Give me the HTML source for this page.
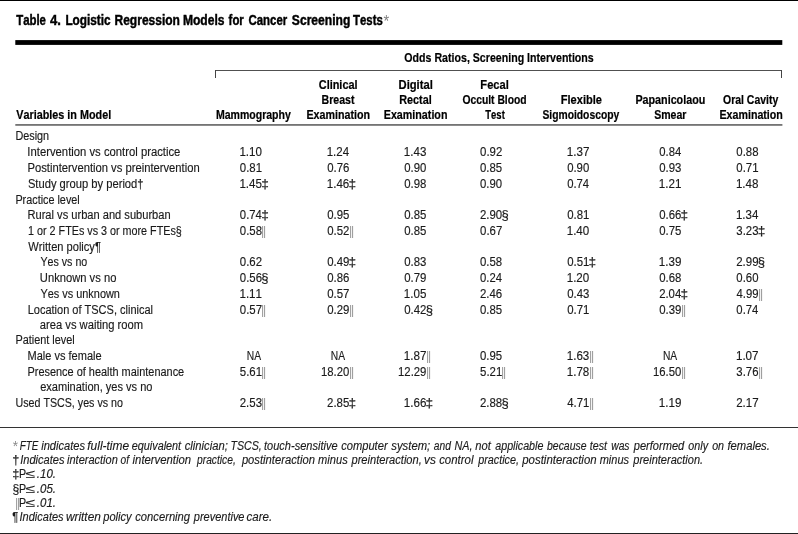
<!DOCTYPE html>
<html lang="en"><head><meta charset="utf-8"><title>Table 4. Logistic Regression Models for Cancer Screening Tests</title>
<style>
html,body{margin:0;padding:0;background:#fff;}
body{width:798px;height:534px;overflow:hidden;}
svg{display:block;will-change:transform;}
text{font-family:"Liberation Sans", Arial, Helvetica, sans-serif;fill:#1a1a1a;font-kerning:none;}
.t{font-size:14.6px;font-weight:bold;}
.h{font-size:11.9px;font-weight:bold;}
.h2{font-size:12.4px;font-weight:bold;}
.r{font-size:12.0px;}
.i{font-size:12.0px;font-style:italic;}
.ts{font-size:12.0px;}
.bar{font-size:16.3px;}
.ast{font-size:17.0px;}
.ast2{font-size:14.2px;}
.t,.h,.h2{fill:#000;}
.bar{fill:#999;}
.t{stroke:#000;stroke-width:0.45px;}
.h,.h2{stroke:#000;stroke-width:0.2px;}
.r,.i{stroke:#1a1a1a;stroke-width:0.15px;}
</style></head><body>
<svg width="798" height="534" viewBox="0 0 798 534">
<rect x="0" y="0" width="798" height="1" fill="#000"/>
<rect x="15.3" y="40.1" width="767.0" height="4.8" fill="#000"/>
<rect x="15.3" y="124" width="767.1" height="1" fill="#747474"/>
<rect x="15.3" y="125" width="767.1" height="1" fill="#8c8c8c"/>
<rect x="0" y="427" width="798" height="1" fill="#333"/>
<rect x="0" y="533" width="798" height="1" fill="#222"/>
<rect x="215" y="70" width="567" height="1" fill="#505050"/>
<rect x="215" y="70" width="1" height="8" fill="#444"/>
<rect x="781" y="70" width="1" height="8" fill="#444"/>
<text><tspan x="16.17" y="25" class="t" textLength="29.82" lengthAdjust="spacingAndGlyphs">Table</tspan> <tspan x="49.90" y="25" class="t" textLength="10.90" lengthAdjust="spacingAndGlyphs">4.</tspan> <tspan x="65.41" y="25" class="t" textLength="45.24" lengthAdjust="spacingAndGlyphs">Logistic</tspan> <tspan x="114.50" y="25" class="t" textLength="65.45" lengthAdjust="spacingAndGlyphs">Regression</tspan> <tspan x="182.89" y="25" class="t" textLength="41.60" lengthAdjust="spacingAndGlyphs">Models</tspan> <tspan x="228.61" y="25" class="t" textLength="15.17" lengthAdjust="spacingAndGlyphs">for</tspan> <tspan x="248.53" y="25" class="t" textLength="38.74" lengthAdjust="spacingAndGlyphs">Cancer</tspan> <tspan x="291.85" y="25" class="t" textLength="58.46" lengthAdjust="spacingAndGlyphs">Screening</tspan> <tspan x="353.07" y="25" class="t" textLength="29.69" lengthAdjust="spacingAndGlyphs">Tests</tspan><tspan x="383.57" y="27" class="ast" textLength="5.66" lengthAdjust="spacingAndGlyphs" fill="#808080">*</tspan></text>
<text x="16.23" y="119" class="h" textLength="94.94" lengthAdjust="spacingAndGlyphs">Variables in Model</text>
<text x="404.36" y="62" class="h2" textLength="189.37" lengthAdjust="spacingAndGlyphs">Odds Ratios, Screening Interventions</text>
<text x="215.89" y="119" class="h" textLength="74.96" lengthAdjust="spacingAndGlyphs">Mammography</text>
<text x="318.75" y="89" class="h" textLength="38.82" lengthAdjust="spacingAndGlyphs">Clinical</text>
<text x="321.49" y="104" class="h" textLength="32.94" lengthAdjust="spacingAndGlyphs">Breast</text>
<text x="306.48" y="119" class="h" textLength="63.58" lengthAdjust="spacingAndGlyphs">Examination</text>
<text x="398.55" y="89" class="h" textLength="34.24" lengthAdjust="spacingAndGlyphs">Digital</text>
<text x="399.28" y="104" class="h" textLength="32.49" lengthAdjust="spacingAndGlyphs">Rectal</text>
<text x="383.78" y="119" class="h" textLength="63.68" lengthAdjust="spacingAndGlyphs">Examination</text>
<text x="480.36" y="89" class="h" textLength="28.43" lengthAdjust="spacingAndGlyphs">Fecal</text>
<text x="462.38" y="104" class="h" textLength="64.31" lengthAdjust="spacingAndGlyphs">Occult Blood</text>
<text x="485.29" y="119" class="h" textLength="19.52" lengthAdjust="spacingAndGlyphs">Test</text>
<text x="560.76" y="104" class="h" textLength="41.22" lengthAdjust="spacingAndGlyphs">Flexible</text>
<text x="542.40" y="119" class="h" textLength="76.85" lengthAdjust="spacingAndGlyphs">Sigmoidoscopy</text>
<text x="635.38" y="104" class="h" textLength="69.93" lengthAdjust="spacingAndGlyphs">Papanicolaou</text>
<text x="654.20" y="119" class="h" textLength="32.26" lengthAdjust="spacingAndGlyphs">Smear</text>
<text x="723.07" y="104" class="h" textLength="55.18" lengthAdjust="spacingAndGlyphs">Oral Cavity</text>
<text x="719.49" y="119" class="h" textLength="63.37" lengthAdjust="spacingAndGlyphs">Examination</text>
<text x="15.41" y="140" class="r" textLength="33.69" lengthAdjust="spacingAndGlyphs">Design</text>
<text x="27.36" y="156" class="r" textLength="153.04" lengthAdjust="spacingAndGlyphs">Intervention vs control practice</text>
<text x="27.48" y="172" class="r" textLength="172.25" lengthAdjust="spacingAndGlyphs">Postintervention vs preintervention</text>
<text x="27.89" y="188" class="r" textLength="115.66" lengthAdjust="spacingAndGlyphs">Study group by period†</text>
<text x="15.41" y="204" class="r" textLength="64.31" lengthAdjust="spacingAndGlyphs">Practice level</text>
<text x="27.49" y="219" class="r" textLength="143.13" lengthAdjust="spacingAndGlyphs">Rural vs urban and suburban</text>
<text x="28.08" y="235" class="r" textLength="153.72" lengthAdjust="spacingAndGlyphs">1 or 2 FTEs vs 3 or more FTEs§</text>
<text x="28.35" y="251" class="r" textLength="72.52" lengthAdjust="spacingAndGlyphs">Written policy¶</text>
<text x="40.47" y="266" class="r" textLength="46.78" lengthAdjust="spacingAndGlyphs">Yes vs no</text>
<text x="39.84" y="282" class="r" textLength="76.53" lengthAdjust="spacingAndGlyphs">Unknown vs no</text>
<text x="40.46" y="298" class="r" textLength="79.45" lengthAdjust="spacingAndGlyphs">Yes vs unknown</text>
<text x="27.70" y="314" class="r" textLength="125.34" lengthAdjust="spacingAndGlyphs">Location of TSCS, clinical</text>
<text x="39.82" y="329" class="r" textLength="103.21" lengthAdjust="spacingAndGlyphs">area vs waiting room</text>
<text x="15.41" y="344" class="r" textLength="59.32" lengthAdjust="spacingAndGlyphs">Patient level</text>
<text x="27.50" y="360" class="r" textLength="74.09" lengthAdjust="spacingAndGlyphs">Male vs female</text>
<text x="27.50" y="376" class="r" textLength="156.68" lengthAdjust="spacingAndGlyphs">Presence of health maintenance</text>
<text x="40.13" y="391" class="r" textLength="112.33" lengthAdjust="spacingAndGlyphs">examination, yes vs no</text>
<text x="15.48" y="407" class="r" textLength="107.47" lengthAdjust="spacingAndGlyphs">Used TSCS, yes vs no</text>
<text><tspan x="239.42" y="156" class="r" textLength="22.53" lengthAdjust="spacingAndGlyphs">1.10</tspan></text>
<text><tspan x="326.72" y="156" class="r" textLength="22.41" lengthAdjust="spacingAndGlyphs">1.24</tspan></text>
<text><tspan x="403.82" y="156" class="r" textLength="22.59" lengthAdjust="spacingAndGlyphs">1.43</tspan></text>
<text><tspan x="480.05" y="156" class="r" textLength="22.22" lengthAdjust="spacingAndGlyphs">0.92</tspan></text>
<text><tspan x="566.71" y="156" class="r" textLength="22.67" lengthAdjust="spacingAndGlyphs">1.37</tspan></text>
<text><tspan x="659.26" y="156" class="r" textLength="21.97" lengthAdjust="spacingAndGlyphs">0.84</tspan></text>
<text><tspan x="736.36" y="156" class="r" textLength="22.14" lengthAdjust="spacingAndGlyphs">0.88</tspan></text>
<text><tspan x="239.85" y="172" class="r" textLength="22.20" lengthAdjust="spacingAndGlyphs">0.81</tspan></text>
<text><tspan x="327.16" y="172" class="r" textLength="22.14" lengthAdjust="spacingAndGlyphs">0.76</tspan></text>
<text><tspan x="404.26" y="172" class="r" textLength="22.09" lengthAdjust="spacingAndGlyphs">0.90</tspan></text>
<text><tspan x="480.06" y="172" class="r" textLength="22.12" lengthAdjust="spacingAndGlyphs">0.85</tspan></text>
<text><tspan x="567.16" y="172" class="r" textLength="22.09" lengthAdjust="spacingAndGlyphs">0.90</tspan></text>
<text><tspan x="659.26" y="172" class="r" textLength="22.14" lengthAdjust="spacingAndGlyphs">0.93</tspan></text>
<text><tspan x="736.35" y="172" class="r" textLength="22.20" lengthAdjust="spacingAndGlyphs">0.71</tspan></text>
<text><tspan x="239.42" y="188" class="r" textLength="22.57" lengthAdjust="spacingAndGlyphs">1.45</tspan><tspan x="261.19" y="188" class="r" textLength="7.64" lengthAdjust="spacingAndGlyphs">‡</tspan></text>
<text><tspan x="326.72" y="188" class="r" textLength="22.59" lengthAdjust="spacingAndGlyphs">1.46</tspan><tspan x="348.49" y="188" class="r" textLength="7.64" lengthAdjust="spacingAndGlyphs">‡</tspan></text>
<text><tspan x="404.26" y="188" class="r" textLength="22.14" lengthAdjust="spacingAndGlyphs">0.98</tspan></text>
<text><tspan x="480.06" y="188" class="r" textLength="22.09" lengthAdjust="spacingAndGlyphs">0.90</tspan></text>
<text><tspan x="567.16" y="188" class="r" textLength="21.97" lengthAdjust="spacingAndGlyphs">0.74</tspan></text>
<text><tspan x="658.81" y="188" class="r" textLength="22.66" lengthAdjust="spacingAndGlyphs">1.21</tspan></text>
<text><tspan x="735.92" y="188" class="r" textLength="22.59" lengthAdjust="spacingAndGlyphs">1.48</tspan></text>
<text><tspan x="239.86" y="219" class="r" textLength="21.97" lengthAdjust="spacingAndGlyphs">0.74</tspan><tspan x="261.19" y="219" class="r" textLength="7.64" lengthAdjust="spacingAndGlyphs">‡</tspan></text>
<text><tspan x="327.16" y="219" class="r" textLength="22.12" lengthAdjust="spacingAndGlyphs">0.95</tspan></text>
<text><tspan x="404.26" y="219" class="r" textLength="22.12" lengthAdjust="spacingAndGlyphs">0.85</tspan></text>
<text><tspan x="479.93" y="219" class="r" textLength="22.22" lengthAdjust="spacingAndGlyphs">2.90</tspan><tspan x="501.57" y="219" class="r" textLength="7.27" lengthAdjust="spacingAndGlyphs">§</tspan></text>
<text><tspan x="567.15" y="219" class="r" textLength="22.20" lengthAdjust="spacingAndGlyphs">0.81</tspan></text>
<text><tspan x="659.26" y="219" class="r" textLength="22.14" lengthAdjust="spacingAndGlyphs">0.66</tspan><tspan x="680.59" y="219" class="r" textLength="7.64" lengthAdjust="spacingAndGlyphs">‡</tspan></text>
<text><tspan x="735.92" y="219" class="r" textLength="22.41" lengthAdjust="spacingAndGlyphs">1.34</tspan></text>
<text><tspan x="239.86" y="235" class="r" textLength="22.14" lengthAdjust="spacingAndGlyphs">0.58</tspan><tspan x="260.90" y="238" class="bar" textLength="5.20" lengthAdjust="spacingAndGlyphs">‖</tspan></text>
<text><tspan x="327.15" y="235" class="r" textLength="22.22" lengthAdjust="spacingAndGlyphs">0.52</tspan><tspan x="348.90" y="238" class="bar" textLength="5.20" lengthAdjust="spacingAndGlyphs">‖</tspan></text>
<text><tspan x="404.26" y="235" class="r" textLength="22.12" lengthAdjust="spacingAndGlyphs">0.85</tspan></text>
<text><tspan x="480.05" y="235" class="r" textLength="22.22" lengthAdjust="spacingAndGlyphs">0.67</tspan></text>
<text><tspan x="566.72" y="235" class="r" textLength="22.53" lengthAdjust="spacingAndGlyphs">1.40</tspan></text>
<text><tspan x="659.26" y="235" class="r" textLength="22.12" lengthAdjust="spacingAndGlyphs">0.75</tspan></text>
<text><tspan x="736.37" y="235" class="r" textLength="22.13" lengthAdjust="spacingAndGlyphs">3.23</tspan><tspan x="757.69" y="235" class="r" textLength="7.64" lengthAdjust="spacingAndGlyphs">‡</tspan></text>
<text><tspan x="239.85" y="266" class="r" textLength="22.22" lengthAdjust="spacingAndGlyphs">0.62</tspan></text>
<text><tspan x="327.15" y="266" class="r" textLength="22.19" lengthAdjust="spacingAndGlyphs">0.49</tspan><tspan x="348.49" y="266" class="r" textLength="7.64" lengthAdjust="spacingAndGlyphs">‡</tspan></text>
<text><tspan x="404.26" y="266" class="r" textLength="22.14" lengthAdjust="spacingAndGlyphs">0.83</tspan></text>
<text><tspan x="480.06" y="266" class="r" textLength="22.14" lengthAdjust="spacingAndGlyphs">0.58</tspan></text>
<text><tspan x="567.15" y="266" class="r" textLength="22.20" lengthAdjust="spacingAndGlyphs">0.51</tspan><tspan x="588.49" y="266" class="r" textLength="7.64" lengthAdjust="spacingAndGlyphs">‡</tspan></text>
<text><tspan x="658.81" y="266" class="r" textLength="22.64" lengthAdjust="spacingAndGlyphs">1.39</tspan></text>
<text><tspan x="736.22" y="266" class="r" textLength="22.32" lengthAdjust="spacingAndGlyphs">2.99</tspan><tspan x="757.87" y="266" class="r" textLength="7.27" lengthAdjust="spacingAndGlyphs">§</tspan></text>
<text><tspan x="239.86" y="282" class="r" textLength="22.14" lengthAdjust="spacingAndGlyphs">0.56</tspan><tspan x="261.37" y="282" class="r" textLength="7.27" lengthAdjust="spacingAndGlyphs">§</tspan></text>
<text><tspan x="327.16" y="282" class="r" textLength="22.14" lengthAdjust="spacingAndGlyphs">0.86</tspan></text>
<text><tspan x="404.25" y="282" class="r" textLength="22.19" lengthAdjust="spacingAndGlyphs">0.79</tspan></text>
<text><tspan x="480.06" y="282" class="r" textLength="21.97" lengthAdjust="spacingAndGlyphs">0.24</tspan></text>
<text><tspan x="566.72" y="282" class="r" textLength="22.53" lengthAdjust="spacingAndGlyphs">1.20</tspan></text>
<text><tspan x="659.26" y="282" class="r" textLength="22.14" lengthAdjust="spacingAndGlyphs">0.68</tspan></text>
<text><tspan x="736.36" y="282" class="r" textLength="22.09" lengthAdjust="spacingAndGlyphs">0.60</tspan></text>
<text><tspan x="239.41" y="298" class="r" textLength="22.66" lengthAdjust="spacingAndGlyphs">1.11</tspan></text>
<text><tspan x="327.15" y="298" class="r" textLength="22.22" lengthAdjust="spacingAndGlyphs">0.57</tspan></text>
<text><tspan x="403.82" y="298" class="r" textLength="22.57" lengthAdjust="spacingAndGlyphs">1.05</tspan></text>
<text><tspan x="479.92" y="298" class="r" textLength="22.28" lengthAdjust="spacingAndGlyphs">2.46</tspan></text>
<text><tspan x="567.16" y="298" class="r" textLength="22.14" lengthAdjust="spacingAndGlyphs">0.43</tspan></text>
<text><tspan x="659.13" y="298" class="r" textLength="22.10" lengthAdjust="spacingAndGlyphs">2.04</tspan><tspan x="680.59" y="298" class="r" textLength="7.64" lengthAdjust="spacingAndGlyphs">‡</tspan></text>
<text><tspan x="736.54" y="298" class="r" textLength="21.99" lengthAdjust="spacingAndGlyphs">4.99</tspan><tspan x="757.90" y="301" class="bar" textLength="5.20" lengthAdjust="spacingAndGlyphs">‖</tspan></text>
<text><tspan x="239.85" y="314" class="r" textLength="22.22" lengthAdjust="spacingAndGlyphs">0.57</tspan><tspan x="260.90" y="317" class="bar" textLength="5.20" lengthAdjust="spacingAndGlyphs">‖</tspan></text>
<text><tspan x="327.15" y="314" class="r" textLength="22.19" lengthAdjust="spacingAndGlyphs">0.29</tspan><tspan x="348.90" y="317" class="bar" textLength="5.20" lengthAdjust="spacingAndGlyphs">‖</tspan></text>
<text><tspan x="404.25" y="314" class="r" textLength="22.22" lengthAdjust="spacingAndGlyphs">0.42</tspan><tspan x="425.77" y="314" class="r" textLength="7.27" lengthAdjust="spacingAndGlyphs">§</tspan></text>
<text><tspan x="480.06" y="314" class="r" textLength="22.12" lengthAdjust="spacingAndGlyphs">0.85</tspan></text>
<text><tspan x="567.15" y="314" class="r" textLength="22.20" lengthAdjust="spacingAndGlyphs">0.71</tspan></text>
<text><tspan x="659.25" y="314" class="r" textLength="22.19" lengthAdjust="spacingAndGlyphs">0.39</tspan><tspan x="680.90" y="317" class="bar" textLength="5.20" lengthAdjust="spacingAndGlyphs">‖</tspan></text>
<text><tspan x="736.36" y="314" class="r" textLength="21.97" lengthAdjust="spacingAndGlyphs">0.74</tspan></text>
<text x="246.86" y="360" class="r" textLength="14.26" lengthAdjust="spacingAndGlyphs">NA</text>
<text x="330.86" y="360" class="r" textLength="14.26" lengthAdjust="spacingAndGlyphs">NA</text>
<text><tspan x="403.81" y="360" class="r" textLength="22.67" lengthAdjust="spacingAndGlyphs">1.87</tspan><tspan x="425.90" y="363" class="bar" textLength="5.20" lengthAdjust="spacingAndGlyphs">‖</tspan></text>
<text><tspan x="480.06" y="360" class="r" textLength="22.12" lengthAdjust="spacingAndGlyphs">0.95</tspan></text>
<text><tspan x="566.72" y="360" class="r" textLength="22.59" lengthAdjust="spacingAndGlyphs">1.63</tspan><tspan x="588.90" y="363" class="bar" textLength="5.20" lengthAdjust="spacingAndGlyphs">‖</tspan></text>
<text x="662.96" y="360" class="r" textLength="14.26" lengthAdjust="spacingAndGlyphs">NA</text>
<text><tspan x="735.91" y="360" class="r" textLength="22.67" lengthAdjust="spacingAndGlyphs">1.07</tspan></text>
<text><tspan x="239.84" y="376" class="r" textLength="22.21" lengthAdjust="spacingAndGlyphs">5.61</tspan><tspan x="260.90" y="379" class="bar" textLength="5.20" lengthAdjust="spacingAndGlyphs">‖</tspan></text>
<text><tspan x="320.94" y="376" class="r" textLength="28.30" lengthAdjust="spacingAndGlyphs">18.20</tspan><tspan x="348.90" y="379" class="bar" textLength="5.20" lengthAdjust="spacingAndGlyphs">‖</tspan></text>
<text><tspan x="398.04" y="376" class="r" textLength="28.40" lengthAdjust="spacingAndGlyphs">12.29</tspan><tspan x="425.90" y="379" class="bar" textLength="5.20" lengthAdjust="spacingAndGlyphs">‖</tspan></text>
<text><tspan x="480.04" y="376" class="r" textLength="22.21" lengthAdjust="spacingAndGlyphs">5.21</tspan><tspan x="500.90" y="379" class="bar" textLength="5.20" lengthAdjust="spacingAndGlyphs">‖</tspan></text>
<text><tspan x="566.72" y="376" class="r" textLength="22.59" lengthAdjust="spacingAndGlyphs">1.78</tspan><tspan x="588.90" y="379" class="bar" textLength="5.20" lengthAdjust="spacingAndGlyphs">‖</tspan></text>
<text><tspan x="653.04" y="376" class="r" textLength="28.30" lengthAdjust="spacingAndGlyphs">16.50</tspan><tspan x="680.90" y="379" class="bar" textLength="5.20" lengthAdjust="spacingAndGlyphs">‖</tspan></text>
<text><tspan x="736.37" y="376" class="r" textLength="22.13" lengthAdjust="spacingAndGlyphs">3.76</tspan><tspan x="757.90" y="379" class="bar" textLength="5.20" lengthAdjust="spacingAndGlyphs">‖</tspan></text>
<text><tspan x="239.72" y="407" class="r" textLength="22.28" lengthAdjust="spacingAndGlyphs">2.53</tspan><tspan x="260.90" y="410" class="bar" textLength="5.20" lengthAdjust="spacingAndGlyphs">‖</tspan></text>
<text><tspan x="327.02" y="407" class="r" textLength="22.26" lengthAdjust="spacingAndGlyphs">2.85</tspan><tspan x="348.49" y="407" class="r" textLength="7.64" lengthAdjust="spacingAndGlyphs">‡</tspan></text>
<text><tspan x="403.82" y="407" class="r" textLength="22.59" lengthAdjust="spacingAndGlyphs">1.66</tspan><tspan x="425.59" y="407" class="r" textLength="7.64" lengthAdjust="spacingAndGlyphs">‡</tspan></text>
<text><tspan x="479.92" y="407" class="r" textLength="22.27" lengthAdjust="spacingAndGlyphs">2.88</tspan><tspan x="501.57" y="407" class="r" textLength="7.27" lengthAdjust="spacingAndGlyphs">§</tspan></text>
<text><tspan x="567.34" y="407" class="r" textLength="22.01" lengthAdjust="spacingAndGlyphs">4.71</tspan><tspan x="588.90" y="410" class="bar" textLength="5.20" lengthAdjust="spacingAndGlyphs">‖</tspan></text>
<text><tspan x="658.81" y="407" class="r" textLength="22.64" lengthAdjust="spacingAndGlyphs">1.19</tspan></text>
<text><tspan x="736.22" y="407" class="r" textLength="22.36" lengthAdjust="spacingAndGlyphs">2.17</tspan></text>
<text><tspan x="12.68" y="451" class="ast2" textLength="5.34" lengthAdjust="spacingAndGlyphs" fill="#8a8a8a">*</tspan><tspan x="19.70" y="450" class="i" textLength="18.61" lengthAdjust="spacingAndGlyphs">FTE</tspan> <tspan x="41.22" y="450" class="i" textLength="43.81" lengthAdjust="spacingAndGlyphs">indicates</tspan> <tspan x="87.30" y="450" class="i" textLength="41.74" lengthAdjust="spacingAndGlyphs">full-time</tspan> <tspan x="131.74" y="450" class="i" textLength="49.39" lengthAdjust="spacingAndGlyphs">equivalent</tspan> <tspan x="184.73" y="450" class="i" textLength="43.05" lengthAdjust="spacingAndGlyphs">clinician;</tspan> <tspan x="230.45" y="450" class="i" textLength="31.29" lengthAdjust="spacingAndGlyphs">TSCS,</tspan> <tspan x="264.00" y="450" class="i" textLength="73.61" lengthAdjust="spacingAndGlyphs">touch-sensitive</tspan> <tspan x="341.14" y="450" class="i" textLength="46.49" lengthAdjust="spacingAndGlyphs">computer</tspan> <tspan x="391.37" y="450" class="i" textLength="38.81" lengthAdjust="spacingAndGlyphs">system;</tspan> <tspan x="433.77" y="450" class="i" textLength="17.06" lengthAdjust="spacingAndGlyphs">and</tspan> <tspan x="454.47" y="450" class="i" textLength="17.99" lengthAdjust="spacingAndGlyphs">NA,</tspan> <tspan x="475.21" y="450" class="i" textLength="15.60" lengthAdjust="spacingAndGlyphs">not</tspan> <tspan x="495.26" y="450" class="i" textLength="48.14" lengthAdjust="spacingAndGlyphs">applicable</tspan> <tspan x="547.05" y="450" class="i" textLength="39.43" lengthAdjust="spacingAndGlyphs">because</tspan> <tspan x="589.82" y="450" class="i" textLength="17.21" lengthAdjust="spacingAndGlyphs">test</tspan> <tspan x="611.19" y="450" class="i" textLength="18.32" lengthAdjust="spacingAndGlyphs">was</tspan> <tspan x="633.78" y="450" class="i" textLength="50.43" lengthAdjust="spacingAndGlyphs">performed</tspan> <tspan x="688.35" y="450" class="i" textLength="19.71" lengthAdjust="spacingAndGlyphs">only</tspan> <tspan x="712.15" y="450" class="i" textLength="11.94" lengthAdjust="spacingAndGlyphs">on</tspan> <tspan x="727.42" y="450" class="i" textLength="42.46" lengthAdjust="spacingAndGlyphs">females.</tspan></text>
<text><tspan x="12.34" y="464" class="r" textLength="7.12" lengthAdjust="spacingAndGlyphs">†</tspan><tspan x="20.16" y="464" class="i" textLength="44.26" lengthAdjust="spacingAndGlyphs">Indicates</tspan> <tspan x="67.02" y="464" class="i" textLength="50.78" lengthAdjust="spacingAndGlyphs">interaction</tspan> <tspan x="120.46" y="464" class="i" textLength="8.55" lengthAdjust="spacingAndGlyphs">of</tspan> <tspan x="132.62" y="464" class="i" textLength="58.50" lengthAdjust="spacingAndGlyphs">intervention</tspan> <tspan x="197.06" y="464" class="i" textLength="38.74" lengthAdjust="spacingAndGlyphs">practice,</tspan> <tspan x="241.88" y="464" class="i" textLength="73.03" lengthAdjust="spacingAndGlyphs">postinteraction</tspan> <tspan x="318.12" y="464" class="i" textLength="29.61" lengthAdjust="spacingAndGlyphs">minus</tspan> <tspan x="351.48" y="464" class="i" textLength="70.31" lengthAdjust="spacingAndGlyphs">preinteraction,</tspan> <tspan x="424.06" y="464" class="i" textLength="11.79" lengthAdjust="spacingAndGlyphs">vs</tspan> <tspan x="439.13" y="464" class="i" textLength="34.32" lengthAdjust="spacingAndGlyphs">control</tspan> <tspan x="478.17" y="464" class="i" textLength="40.89" lengthAdjust="spacingAndGlyphs">practice,</tspan> <tspan x="522.28" y="464" class="i" textLength="74.33" lengthAdjust="spacingAndGlyphs">postinteraction</tspan> <tspan x="599.72" y="464" class="i" textLength="29.31" lengthAdjust="spacingAndGlyphs">minus</tspan> <tspan x="633.27" y="464" class="i" textLength="69.88" lengthAdjust="spacingAndGlyphs">preinteraction.</tspan></text>
<text><tspan x="12.35" y="478" class="r" textLength="7.11" lengthAdjust="spacingAndGlyphs">‡</tspan><tspan x="19.02" y="478" class="r" textLength="7.14" lengthAdjust="spacingAndGlyphs">P</tspan><tspan x="25.87" y="478" class="r" textLength="9.47" lengthAdjust="spacingAndGlyphs">≤</tspan><tspan x="36.85" y="478" class="i" textLength="19.16" lengthAdjust="spacingAndGlyphs">.10.</tspan></text>
<text><tspan x="12.52" y="493" class="r" textLength="6.77" lengthAdjust="spacingAndGlyphs">§</tspan><tspan x="19.02" y="493" class="r" textLength="7.14" lengthAdjust="spacingAndGlyphs">P</tspan><tspan x="25.87" y="493" class="r" textLength="9.47" lengthAdjust="spacingAndGlyphs">≤</tspan><tspan x="36.85" y="493" class="i" textLength="19.16" lengthAdjust="spacingAndGlyphs">.05.</tspan></text>
<text><tspan x="14.90" y="510" class="bar" textLength="5.20" lengthAdjust="spacingAndGlyphs">‖</tspan><tspan x="19.02" y="507" class="r" textLength="7.14" lengthAdjust="spacingAndGlyphs">P</tspan><tspan x="25.87" y="507" class="r" textLength="9.47" lengthAdjust="spacingAndGlyphs">≤</tspan><tspan x="36.85" y="507" class="i" textLength="19.16" lengthAdjust="spacingAndGlyphs">.01.</tspan></text>
<text><tspan x="12.16" y="521" class="r" textLength="6.01" lengthAdjust="spacingAndGlyphs">¶</tspan><tspan x="19.56" y="521" class="i" textLength="44.06" lengthAdjust="spacingAndGlyphs">Indicates</tspan> <tspan x="65.91" y="521" class="i" textLength="34.93" lengthAdjust="spacingAndGlyphs">written</tspan> <tspan x="103.28" y="521" class="i" textLength="28.37" lengthAdjust="spacingAndGlyphs">policy</tspan> <tspan x="135.23" y="521" class="i" textLength="54.87" lengthAdjust="spacingAndGlyphs">concerning</tspan> <tspan x="193.77" y="521" class="i" textLength="50.73" lengthAdjust="spacingAndGlyphs">preventive</tspan> <tspan x="246.52" y="521" class="i" textLength="25.69" lengthAdjust="spacingAndGlyphs">care.</tspan></text>
</svg>
</body></html>
